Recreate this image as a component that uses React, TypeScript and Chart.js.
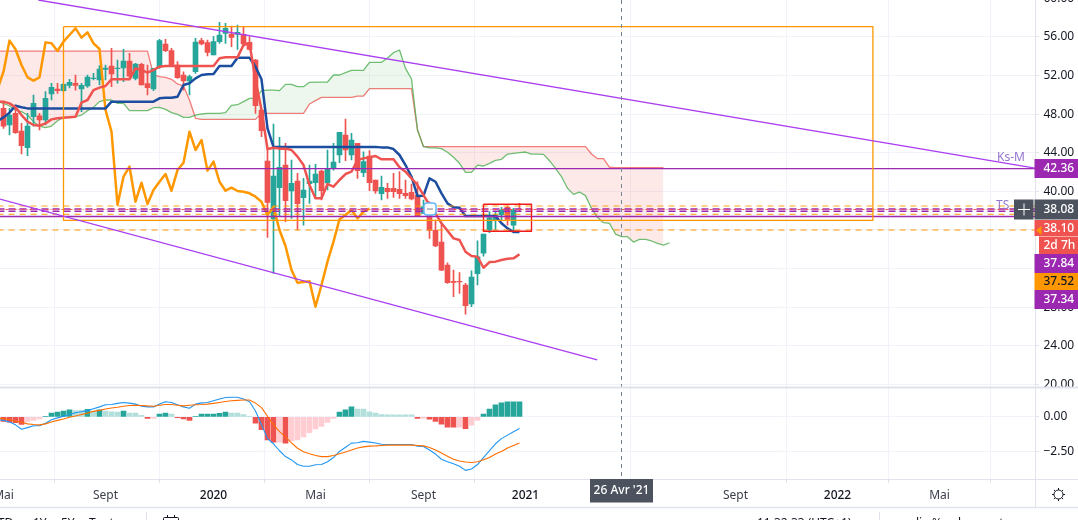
import React, { useEffect, useRef } from "react";
import { Chart, registerables } from "chart.js";

Chart.register(...registerables);

const opens = [48.60,46.88,48.09,46.26,44.53,47.74,47.84,47.40,50.09,50.61,50.44,50.99,51.2,50.61,50.92,51.68,51.54,52.65,52.99,52.72,52.78,53.51,51.71,53.16,51.16,50.61,52.92,55.27,54.58,53.09,52.06,51.44,52.4,55.62,55.41,54.13,55.51,56.38,56.31,56.27,56.27,55.44,53.61,48.43,43.15,37.14,40.38,42.73,40.04,41.07,39.35,40.8,40.9,42.11,40.87,42.35,43.77,45.84,43.77,44.98,41.94,43.67,41.18,39.76,40.31,40.31,40.21,39.80,39.90,39.62,37.72,38.76,35.96,34.75,32.37,30.68,30.68,30.30,28.33,31.47,33.61,36.0,36.96,37.55,38.35,36.51,38.14];
const closes = [46.77,47.91,46.08,44.74,46.77,49.12,47.40,49.64,50.78,50.44,51.09,51.30,50.99,50.99,51.85,51.75,52.68,52.78,52.16,52.78,53.51,51.95,53.2,51.02,50.75,52.75,55.62,54.58,52.92,51.78,51.44,51.89,55.48,55.27,54.41,55.51,56.2,56.89,55.96,56.48,55.27,54.72,48.88,46.29,38.86,41.59,42.49,39.04,40.83,38.73,40.14,41.07,41.8,40.07,42.32,43.04,46.12,44.29,45.32,42.15,43.08,40.9,40.04,40.42,39.97,39.97,39.76,39.55,39.21,37.45,38.41,35.96,34.34,31.85,30.54,30.57,30.61,28.16,31.13,33.23,35.58,37.27,37.55,38.07,37.10,38.07,38.10];
const highs = [49.30,48.60,48.95,47.05,48.09,49.99,48.09,50.33,51.2,51.2,51.2,51.61,52.06,51.2,52.06,52.23,53.03,53.09,54.82,53.61,54.72,54.3,53.27,53.27,53.09,52.75,55.75,55.75,54.82,53.44,52.40,52.06,55.86,55.86,55.69,56.03,57.52,57.41,57.14,57.24,57.0,56.03,53.68,48.43,44.46,46.98,45.6,44.98,43.25,41.87,41.35,42.73,42.8,42.21,44.29,44.98,46.12,47.5,46.01,44.98,44.11,44.22,41.18,41.59,40.83,41.87,42.04,41.18,40.76,41.0,39.11,38.93,37.03,36.69,32.61,31.85,31.58,30.47,31.78,34.89,35.58,37.9,37.9,38.35,38.48,38.24,38.76];
const lows = [46.53,45.84,46.01,43.87,43.70,46.77,46.36,46.88,49.47,50.16,50.33,50.71,50.50,48.26,50.78,51.54,51.02,51.54,50.85,51.2,51.37,51.82,51.54,51.02,49.99,50.44,52.75,54.48,52.92,51.71,50.50,49.99,52.23,55.17,54.03,54.13,55.34,55.34,54.99,54.72,54.99,54.65,48.09,45.67,35.24,31.51,37.45,36.86,37.21,36.0,36.51,38.76,39.28,39.11,40.14,42.21,42.97,43.18,43.25,41.35,41.52,40.07,39.80,39.11,39.28,39.38,39.28,39.28,39.11,37.45,37.72,35.13,34.27,31.78,30.47,29.09,29.43,27.29,28.05,30.30,33.30,35.72,36.0,37.03,36.51,35.82,37.9];

// The first value of each line below is the week just off the left edge of the picture.
const tenkan = [49.3,49.3,49.12,48.71,47.91,47.22,46.88,46.81,47.05,47.46,47.57,47.64,47.67,47.74,49.19,49.47,50.5,50.75,50.92,51.61,51.61,51.61,51.61,52.75,52.58,52.3,52.58,52.92,52.99,52.99,52.99,52.99,52.99,52.99,52.99,52.99,52.99,53.79,53.89,53.89,53.89,55.17,55.34,51.54,48.43,44.39,44.53,44.43,44.43,44.29,43.6,42.73,40.66,39.28,39.28,40.76,40.49,41.18,41.8,42.04,43.25,43.42,43.53,43.67,43.32,43.32,43.32,42.49,42.04,41.35,40.66,39.62,38.59,37.72,36.69,35.93,35.13,34.96,33.75,33.3,33.23,32.09,32.68,32.72,32.89,33.03,33.06,33.48];
const kijun = [47.3,47.67,48.16,48.88,48.71,48.6,48.6,48.6,48.6,48.6,48.6,48.6,48.6,48.6,48.6,48.6,48.6,48.6,48.6,49.3,49.3,49.3,49.3,49.3,49.3,49.3,49.3,49.64,49.71,49.71,49.81,51.02,51.2,51.71,52.06,52.13,52.16,52.99,52.99,52.99,53.85,53.85,53.85,52.92,51.61,46.53,44.6,44.6,44.6,44.6,44.6,44.6,44.6,44.6,44.6,44.6,44.6,44.6,44.6,44.6,44.6,44.6,44.6,44.6,44.56,44.56,44.39,43.77,42.73,41.52,39.52,39.56,41.35,41.0,39.8,38.76,38.35,38.31,37.45,37.45,37.45,37.45,37.45,37.45,36.69,36.17,35.79,35.79];
const lagging = [50.6,52.4,55.62,54.72,53.09,51.82,51.47,51.82,55.44,55.34,54.55,55.51,56.2,56.89,55.93,56.48,55.34,54.75,48.43,46.19,38.59,41.52,42.56,38.93,40.9,38.69,40.14,41.0,41.8,40.07,42.21,42.97,46.19,44.29,45.32,42.15,43.08,41.0,40.07,40.38,40.04,39.97,39.8,39.45,38.93,37.55,38.35,36.0,34.34,31.85,30.54,30.61,30.68,28.05,30.3,32.72,34.79,37.1,37.55,38.07,37.21,37.9,38.21];
const leadA = [49.3,49.12,48.85,48.43,48.26,47.91,47.22,46.77,46.6,46.77,47.33,47.64,47.74,47.74,47.91,48.36,48.71,49.3,49.47,49.47,49.12,49.12,48.36,48.36,48.36,48.36,48.67,48.71,48.5,48.16,47.98,47.67,47.67,47.91,48.02,48.09,48.09,48.09,48.16,48.92,48.98,49.3,49.64,49.64,50.44,50.5,50.5,50.44,51.09,51.09,50.85,50.85,51.3,51.33,51.33,51.33,52.06,52.06,52.3,52.54,52.54,52.54,53.37,53.37,53.37,53.82,54.37,54.65,52.75,51.64,46.36,44.63,44.5,44.5,44.43,44.05,43.53,42.91,41.97,41.97,42.73,42.63,42.91,43.22,43.32,43.87,43.94,44.01,44.08,43.87,43.87,43.84,43.18,42.39,41.52,40.32,39.69,39.93,39.56,38.24,37.31,36.76,36.69,35.58,35.31,35.31,34.75,35.03,35.03,34.86,34.62,34.44,34.68];
const leadB = [54.54,54.54,54.54,54.54,54.54,54.54,54.54,54.54,54.54,54.54,54.54,54.54,54.54,54.54,54.54,54.54,54.54,54.54,54.54,54.54,54.54,54.54,54.54,54.54,54.54,54.54,52.06,51.89,51.82,51.61,51.13,50.92,49.47,47.57,47.46,47.46,47.46,47.46,47.46,47.46,47.46,47.46,47.46,47.46,48.09,48.09,48.09,48.09,48.09,48.09,48.09,48.09,49.05,49.4,49.74,49.74,49.74,49.74,49.74,49.74,49.88,49.88,50.64,50.64,50.64,50.64,50.64,50.64,50.64,50.64,46.36,44.63,44.63,44.63,44.63,44.63,44.63,44.63,44.63,44.63,44.63,44.63,44.63,44.63,44.63,44.63,44.63,44.63,44.63,44.63,44.63,44.63,44.63,44.63,44.63,44.63,44.63,44.63,44.63,43.87,43.39,43.39,42.5,42.46,42.46,42.46,42.46,42.46,42.46,42.46,42.46,42.46];

const macdHist = [-0.32,-0.37,-0.42,-0.54,-0.32,-0.25,-0.15,0.05,0.27,0.35,0.42,0.5,0.45,0.47,0.54,0.42,0.5,0.42,0.37,0.35,0.42,0.27,0.27,0.12,-0.10,-0.10,0.2,0.27,0.2,-0.05,-0.15,-0.25,0.05,0.2,0.2,0.2,0.25,0.35,0.27,0.27,0.17,0.05,-0.45,-0.92,-1.66,-1.81,-1.81,-1.88,-1.73,-1.66,-1.44,-1.14,-0.87,-0.69,-0.40,-0.10,0.35,0.5,0.72,0.57,0.57,0.37,0.27,0.17,0.15,0.15,0.15,0.15,0.15,-0.1,-0.1,-0.17,-0.32,-0.52,-0.74,-0.74,-0.74,-0.84,-0.59,-0.25,0.2,0.57,0.87,1.01,1.09,1.09,1.09];
const macdLine = [-0.2,-0.25,-0.37,-0.57,-0.89,-0.77,-0.64,-0.64,-0.45,-0.2,-0.07,0.05,0.17,0.3,0.37,0.47,0.59,0.72,0.87,0.89,0.97,1.04,0.99,0.92,0.77,0.72,0.72,0.92,1.09,1.04,0.87,0.72,0.62,0.92,1.01,1.04,1.16,1.29,1.39,1.41,1.41,1.29,1.09,0.42,-0.57,-1.56,-1.93,-2.43,-2.85,-3.09,-3.42,-3.54,-3.54,-3.44,-3.42,-3.22,-2.92,-2.48,-2.18,-1.88,-1.86,-1.76,-1.81,-1.88,-1.96,-1.98,-1.98,-1.98,-1.98,-1.98,-2.1,-2.13,-2.38,-2.67,-3.04,-3.22,-3.37,-3.54,-3.84,-3.74,-3.42,-2.92,-2.43,-1.93,-1.56,-1.31,-1.06,-0.84];
const signalLine = [-0.1,-0.12,-0.2,-0.3,-0.37,-0.5,-0.54,-0.57,-0.5,-0.37,-0.25,-0.15,-0.02,0.07,0.17,0.27,0.4,0.47,0.57,0.64,0.69,0.77,0.82,0.84,0.82,0.79,0.77,0.84,0.89,0.89,0.84,0.79,0.84,0.87,0.89,0.92,0.97,1.04,1.11,1.16,1.19,1.21,1.21,0.99,0.67,0.05,-0.57,-1.06,-1.44,-1.86,-2.25,-2.5,-2.65,-2.77,-2.85,-2.85,-2.77,-2.65,-2.52,-2.38,-2.23,-2.15,-2.1,-2.08,-2.05,-2.03,-2.03,-2.03,-2.03,-2.03,-2.05,-2.08,-2.2,-2.38,-2.6,-2.82,-3.04,-3.17,-3.24,-3.27,-3.22,-3.07,-2.92,-2.67,-2.48,-2.23,-2.05,-1.88];

const histShade = ["d","d","d","d","l","l","l","u","u","u","u","u","p","p","u","p","u","p","p","p","u","p","p","p","d","l","u","u","p","d","d","d","u","u","u","u","u","u","p","p","p","p","d","d","d","d","l","d","l","l","l","l","l","l","l","l","u","u","u","p","p","p","p","p","p","p","p","p","p","d","l","d","d","d","d","d","l","d","l","l","u","u","u","u","u","u","u"];

const priceTicks = [56, 52, 48, 44, 40, 36, 32, 28, 24, 20];
const macdTicks = [0, -2.5];
const timeTickIndex = [0, 17, 35, 52, 70, 87, 122, 139, 156];
const timeTickLabels = ["Mai", "Sept", "2020", "Mai", "Sept", "2021", "Sept", "2022", "Mai"];

const upperTrendX = [5.8, 171.9];
const upperTrendP = [59.83, 42.42];
const lowerTrendX = [-0.6, 98.95];
const lowerTrendP = [39.21, 22.53];
const orangeBoxX = [10, 144.9];
const orangeBoxP = [57.07, 37.0];
const redBoxX = [80, 88];
const redBoxP = [38.66, 35.87];
const solidPurpleLevels = [42.36, 37.4];
const dashedPurpleLevels = [38.18, 37.94];
const paleOrangeLevel = 38.49;
const redDotLevel = 38.12;
const orangeDashLevels = [37.63, 36.0];
const crossIndex = 103;
const markerIndex = 71;
const markerPrice = 38.17;

const axisBoxes = [
  { text: "42.36", top: 159, h: 19, bg: "#9c27b0", fg: "#ffffff" },
  { text: "38.08", top: 199.5, h: 20, bg: "#4c525e", fg: "#ffffff" },
  { text: "38.10", top: 220, h: 16, bg: "#ef5350", fg: "#ffffff" },
  { text: "2d 7h", top: 236.5, h: 17.5, bg: "#ef5350", fg: "#ffffff", left: 1039 },
  { text: "37.84", top: 254, h: 19, bg: "#9c27b0", fg: "#ffffff" },
  { text: "37.52", top: 273, h: 17, bg: "#ff9800", fg: "#131722" },
  { text: "37.34", top: 290, h: 19, bg: "#9c27b0", fg: "#ffffff" },
];

const GRID = "#f0f3fa";
const BORDER = "#e0e3eb";
const TEXT = "#131722";
const FONT = '"Noto Sans", sans-serif';
const UP = "#26a69a";
const DOWN = "#ef5350";
const HIST: any = { u: UP, p: "#b2dfdb", d: DOWN, l: "#ffcdd2" };

const series = (a: number[]) => a.map((y, x) => ({ x, y }));
const seriesFromBefore = (a: number[]) => a.map((y, i) => ({ x: i - 1, y }));
const level = (p: number) => [{ x: -1, y: p }, { x: 173, y: p }];
const lineDs = (data: any, color: string, width: number, order: number, extra: any = {}) => ({
  type: "line", data, borderColor: color, borderWidth: width, pointRadius: 0, tension: 0,
  fill: false, order, yAxisID: "y", xAxisID: "x", borderJoinStyle: "round", ...extra,
});
const box = (xs: number[], ps: number[]) => [
  { x: xs[0], y: ps[0] }, { x: xs[1], y: ps[0] }, { x: xs[1], y: ps[1] }, { x: xs[0], y: ps[1] }, { x: xs[0], y: ps[0] },
];
const noPadding = (s: any) => {
  s.paddingLeft = 0;
  s.paddingRight = 0;
  s.paddingTop = 0;
  s.paddingBottom = 0;
};

const overlay = {
  id: "overlay",
  afterDraw(chart: any) {
    const c = chart.ctx;
    const sx = chart.scales.x;
    const sy = chart.scales.y;
    const sep = sy.bottom;
    const axisY = chart.chartArea.bottom;
    const right = chart.chartArea.right;
    c.save();

    // crosshair
    const cx = Math.floor(sx.getPixelForValue(crossIndex)) + 0.5;
    c.strokeStyle = "#758696";
    c.lineWidth = 1;
    c.setLineDash([4, 4]);
    c.beginPath();
    c.moveTo(cx, 0);
    c.lineTo(cx, axisY);
    c.stroke();
    c.setLineDash([]);

    // position marker
    const mx = sx.getPixelForValue(markerIndex) + 0.5;
    const my = sy.getPixelForValue(markerPrice);
    c.fillStyle = "#ffffff";
    c.strokeStyle = "#64b5f6";
    c.lineWidth = 1.5;
    c.beginPath();
    c.roundRect(mx - 6, my - 6, 12, 12, 3);
    c.fill();
    c.stroke();
    c.strokeStyle = "#787b86";
    c.lineWidth = 1;
    c.beginPath();
    c.moveTo(mx - 3, my);
    c.lineTo(mx + 3, my);
    c.stroke();

    // pane frames
    c.strokeStyle = BORDER;
    c.lineWidth = 2;
    c.beginPath();
    c.moveTo(0, sep);
    c.lineTo(1078, sep);
    c.stroke();
    c.lineWidth = 1;
    c.beginPath();
    c.moveTo(0, axisY + 0.5);
    c.lineTo(1078, axisY + 0.5);
    c.moveTo(right + 0.5, 0);
    c.lineTo(right + 0.5, 507);
    c.stroke();
    c.lineWidth = 1.5;
    c.beginPath();
    c.moveTo(0, 507.5);
    c.lineTo(1078, 507.5);
    c.stroke();
    c.lineWidth = 1;
    c.beginPath();
    c.moveTo(146.5, 512);
    c.lineTo(146.5, 520);
    c.moveTo(879.5, 512);
    c.lineTo(879.5, 520);
    c.stroke();

    // drawing names
    c.font = `12px ${FONT}`;
    c.textBaseline = "middle";
    c.textAlign = "left";
    c.fillStyle = "#9575cd";
    c.fillText("Ks-M", 997, 157.5);
    c.fillText("TS", 996, 205.5);

    // cross cursor
    c.fillStyle = "#4c525e";
    c.fillRect(1014, 199.5, 19.5, 20);
    c.strokeStyle = "#ffffff";
    c.lineWidth = 1;
    c.beginPath();
    c.moveTo(1018, 209.5);
    c.lineTo(1030, 209.5);
    c.moveTo(1024, 203.5);
    c.lineTo(1024, 215.5);
    c.stroke();

    // clipped top tick
    c.fillStyle = TEXT;
    c.font = `12px ${FONT}`;
    c.fillText("60.00", 1043.5, -1);

    // axis labels
    axisBoxes.forEach((b: any) => {
      const l = b.left ?? 1034.5;
      c.fillStyle = b.bg;
      c.fillRect(l, b.top, 1078 - l, b.h);
      c.fillStyle = b.fg;
      c.font = `500 12px ${FONT}`;
      c.fillText(b.text, 1043.5, b.top + b.h / 2 + 0.5);
    });
    c.fillStyle = "#ff9800";
    c.beginPath();
    c.moveTo(1036, 230.5);
    c.lineTo(1041.5, 226);
    c.lineTo(1041.5, 235);
    c.closePath();
    c.fill();

    // time crosshair label
    c.fillStyle = "#4c525e";
    c.fillRect(590, 479, 63, 23.5);
    c.fillStyle = "#ffffff";
    c.textAlign = "center";
    c.font = `500 12px ${FONT}`;
    c.fillText("26 Avr '21", 621.5, 491);

    // settings icon
    const gx = 1058.5;
    const gy = 494.5;
    c.strokeStyle = TEXT;
    c.lineWidth = 1;
    c.beginPath();
    c.arc(gx, gy, 4.5, 0, Math.PI * 2);
    for (let k = 0; k < 8; k++) {
      const a = (k * Math.PI) / 4;
      c.moveTo(gx + Math.cos(a) * 4.5, gy + Math.sin(a) * 4.5);
      c.lineTo(gx + Math.cos(a) * 6.5, gy + Math.sin(a) * 6.5);
    }
    c.stroke();

    // clipped toolbar
    c.fillStyle = TEXT;
    c.textAlign = "left";
    c.textBaseline = "alphabetic";
    c.font = `12px ${FONT}`;
    [["YTD", -9], ["1Y", 33], ["5Y", 61], ["Tout", 89], ["11:32:33 (UTC+1)", 757], ["adj", 905], ["%", 932], ["log", 958], ["auto", 985]].forEach(
      ([t, x]: any) => c.fillText(t, x, 527),
    );
    c.strokeStyle = TEXT;
    c.beginPath();
    c.roundRect(163.5, 517.5, 15, 12, 1);
    c.moveTo(167.5, 515);
    c.lineTo(167.5, 518);
    c.moveTo(174.5, 515);
    c.lineTo(174.5, 518);
    c.stroke();
    c.restore();
  },
};

export default function App() {
  const ref = useRef<HTMLCanvasElement>(null);
  useEffect(() => {
    const indices = opens.map((_, i) => i);
    const isUp = (i: number) => closes[i] >= opens[i];
    const candleColors = indices.map((i) => (isUp(i) ? UP : DOWN));
    const histColors = histShade.map((k) => HIST[k]);
    const chart = new Chart(ref.current as HTMLCanvasElement, {
      type: "line",
      data: {
        datasets: [
          lineDs(seriesFromBefore(leadB), "rgba(239,83,80,0.75)", 1.3, 31),
          lineDs(seriesFromBefore(leadA), "rgba(76,175,80,0.8)", 1.3, 30, {
            fill: { target: 0, above: "rgba(76,175,80,0.1)", below: "rgba(239,83,80,0.13)" },
          }),
          {
            type: "bar", data: indices.map((i) => ({ x: i, y: [lows[i], highs[i]] })),
            backgroundColor: candleColors, barThickness: 1, grouped: false, order: 20, yAxisID: "y", xAxisID: "x",
          },
          {
            type: "bar", data: indices.map((i) => ({ x: i, y: [Math.min(opens[i], closes[i]), Math.max(opens[i], closes[i])] })),
            backgroundColor: candleColors, barThickness: 5, grouped: false, order: 19, yAxisID: "y", xAxisID: "x",
          },
          lineDs(seriesFromBefore(lagging), "#ff9800", 2.5, 9),
          lineDs(seriesFromBefore(kijun), "#1c4ea0", 2.5, 8),
          lineDs(seriesFromBefore(tenkan), "#ef5350", 2.5, 7),
          lineDs(level(paleOrangeLevel), "rgba(255,152,0,0.45)", 2, 6, { borderDash: [6, 5] }),
          lineDs(level(orangeDashLevels[0]), "#ff9800", 1.2, 6, { borderDash: [6, 5] }),
          lineDs(level(orangeDashLevels[1]), "#ff9800", 1.2, 6, { borderDash: [6, 5] }),
          lineDs(level(dashedPurpleLevels[0]), "#9c27b0", 1.5, 5, { borderDash: [7, 4] }),
          lineDs(level(dashedPurpleLevels[1]), "#9c27b0", 1.5, 5, { borderDash: [7, 4] }),
          lineDs(level(redDotLevel), "#ef5350", 1, 4, { borderDash: [3, 2, 1, 2] }),
          lineDs(level(solidPurpleLevels[0]), "#9c27b0", 1.3, 3),
          lineDs(level(solidPurpleLevels[1]), "#9c27b0", 1.3, 3),
          lineDs(box(orangeBoxX, orangeBoxP), "#ff9800", 1.3, 2),
          lineDs(box(redBoxX, redBoxP), "#ee1c1c", 1.4, 2),
          lineDs([{ x: upperTrendX[0], y: upperTrendP[0] }, { x: upperTrendX[1], y: upperTrendP[1] }], "#aa3df0", 1.3, 1),
          lineDs([{ x: lowerTrendX[0], y: lowerTrendP[0] }, { x: lowerTrendX[1], y: lowerTrendP[1] }], "#aa3df0", 1.3, 1),
          {
            type: "bar", data: series(macdHist), backgroundColor: histColors, barThickness: 5, grouped: false,
            order: 12, yAxisID: "y2", xAxisID: "x",
          },
          lineDs(seriesFromBefore(macdLine), "#2196f3", 1.1, 11, { yAxisID: "y2" }),
          lineDs(seriesFromBefore(signalLine), "#ff6d00", 1.1, 10, { yAxisID: "y2" }),
        ] as any,
      },
      options: {
        animation: false,
        responsive: false,
        devicePixelRatio: 1,
        events: [],
        layout: { padding: 0, autoPadding: false },
        plugins: { legend: { display: false }, tooltip: { enabled: false } },
        scales: {
          x: {
            type: "linear",
            offset: false,
            min: -0.5833,
            max: 171.9167,
            afterFit: (s: any) => { s.height = 41; noPadding(s); },
            afterBuildTicks: (s: any) => { s.ticks = timeTickIndex.map((value) => ({ value })); },
            grid: { color: GRID, tickLength: 4, tickColor: BORDER },
            border: { display: false },
            ticks: {
              autoSkip: false,
              maxRotation: 0,
              padding: 5,
              includeBounds: false,
              color: (ctx: any) => (/^20/.test(timeTickLabels[timeTickIndex.indexOf(ctx.tick?.value)] ?? "") ? TEXT : "#3a3e4a"),
              font: (ctx: any) => ({
                family: FONT,
                size: 12,
                weight: /^20/.test(timeTickLabels[timeTickIndex.indexOf(ctx.tick?.value)] ?? "") ? "500" : "400",
              }),
              callback: (v: any) => timeTickLabels[timeTickIndex.indexOf(v)] ?? "",
            },
          },
          y: {
            type: "linear",
            position: "right",
            stack: "panes",
            stackWeight: 387.6,
            min: 19.67,
            max: 59.83,
            afterFit: (s: any) => { s.width = 43; noPadding(s); },
            afterBuildTicks: (s: any) => { s.ticks = priceTicks.map((value) => ({ value })); },
            grid: { color: GRID, tickLength: 4, tickColor: BORDER },
            border: { display: false },
            ticks: {
              color: TEXT, padding: 4.5, font: { family: FONT, size: 12 },
              callback: (v: any) => Number(v).toFixed(2),
            },
          },
          y2: {
            type: "linear",
            position: "right",
            stack: "panes",
            stackWeight: 91.4,
            min: -4.46,
            max: 2.105,
            afterFit: (s: any) => { s.width = 43; noPadding(s); },
            afterBuildTicks: (s: any) => { s.ticks = macdTicks.map((value) => ({ value })); },
            grid: { color: GRID, tickLength: 4, tickColor: BORDER },
            border: { display: false },
            ticks: {
              color: TEXT, padding: 4.5, font: { family: FONT, size: 12 },
              callback: (v: any) => Number(v).toFixed(2).replace("-", "\u2212"),
            },
          },
        },
      } as any,
      plugins: [overlay],
    });
    return () => chart.destroy();
  }, []);
  return (
    <div style={{ position: "fixed", left: 0, top: 0, width: 1078, height: 520, background: "#ffffff" }}>
      <canvas ref={ref} width={1078} height={520} style={{ display: "block", width: 1078, height: 520 }} />
    </div>
  );
}
